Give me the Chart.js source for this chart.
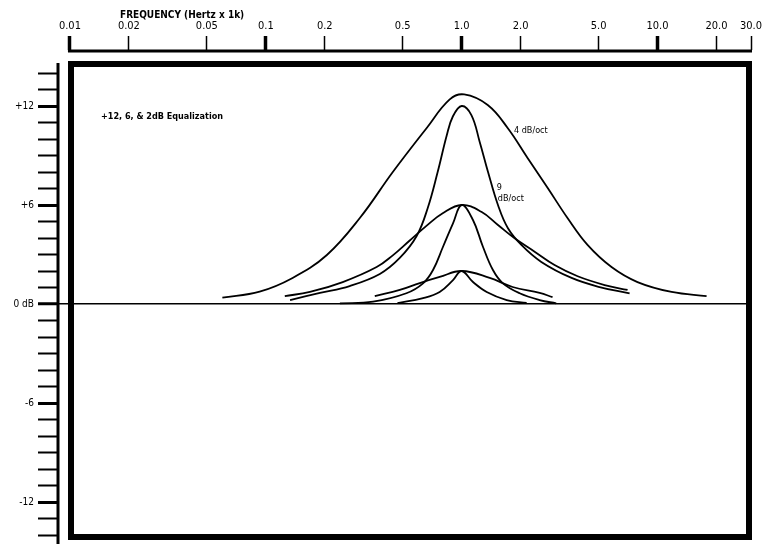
<!DOCTYPE html>
<html>
<head>
<meta charset="utf-8">
<script src="https://cdn.jsdelivr.net/npm/chart.js@4.4.1/dist/chart.umd.min.js"></script>
<style>
html,body{margin:0;padding:0;background:#fff}
#wrap{width:762px;height:544px}
</style>
</head>
<body>
<div id="wrap"><canvas id="eq" width="762" height="544"></canvas></div>
<script>
const freqTicks = [0.01,0.02,0.05,0.1,0.2,0.5,1,2,5,10,20,30]
const freqLabels = ['0.01','0.02','0.05','0.1','0.2','0.5','1.0','2.0','5.0','10.0','20.0','30.0']
const freqMajor = [0.01,0.1,1,10]
const dbTicks = [-14,-13,-12,-11,-10,-9,-8,-7,-6,-5,-4,-3,-2,-1,0,1,2,3,4,5,6,7,8,9,10,11,12,13,14]
const dbLabels = {'12':'+12','6':'+6','0':'0 dB','-6':'-6','-12':'-12'}

// +12 dB, 4 dB/oct
const f12wide = [0.06,0.093,0.137,0.205,0.302,0.445,0.663,0.869,1.03,1.358,1.717,2.17,2.75,3.47,4.39,5.82,7.9,11.8,17.8]
const db12wide = [0.38,0.75,1.58,2.97,5.21,8.0,10.67,12.4,12.7,12.06,10.67,8.85,7.03,5.21,3.58,2.24,1.33,0.73,0.48]
// +12 dB, 9 dB/oct
const f12narrow = [0.133,0.189,0.268,0.382,0.483,0.589,0.671,0.754,0.838,0.90,1.0,1.121,1.235,1.362,1.532,1.723,2.017,2.55,3.64,5.06,7.2]
const db12narrow = [0.24,0.67,1.09,1.82,2.79,4.12,5.82,8.0,10.2,11.35,12.0,11.45,9.84,8.02,6.0,4.59,3.58,2.55,1.58,1.03,0.64]
// +6 dB, 4 dB/oct
const f6wide = [0.125,0.168,0.247,0.368,0.445,0.543,0.663,0.80,1.0,1.26,1.532,1.864,2.357,2.98,3.91,5.37,7.03]
const db6wide = [0.48,0.73,1.33,2.24,2.95,3.85,4.75,5.5,6.0,5.59,4.79,3.98,3.17,2.36,1.68,1.15,0.85]
// +6 dB, 9 dB/oct
const f6narrow = [0.239,0.353,0.522,0.635,0.714,0.803,0.903,1.0,1.142,1.284,1.444,1.624,1.977,2.5,3.04]
const db6narrow = [0.04,0.14,0.65,1.25,2.06,3.47,4.89,6.0,5.09,3.47,2.06,1.25,0.65,0.24,0.04]
// +2 dB, 4 dB/oct
const f2wide = [0.36,0.483,0.611,0.772,1.0,1.39,1.82,2.5,2.91]
const db2wide = [0.48,0.85,1.27,1.64,2.0,1.58,1.03,0.67,0.42]
// +2 dB, 9 dB/oct
const f2narrow = [0.47,0.635,0.772,0.903,1.0,1.142,1.342,1.697,2.146]
const db2narrow = [0.06,0.36,0.73,1.45,2.0,1.33,0.73,0.24,0.06]

const family = '"Liberation Sans Narrow","DejaVu Sans Condensed","Liberation Sans",sans-serif'

function curve(f, db){
  return {data: f.map((v,i)=>({x:v, y:db[i]}))}
}

// frame, axis lines and the hand lettered notes
const decor = {
  id:'decor',
  afterDraw(chart){
    const {ctx, chartArea:a, scales:{x,y}} = chart
    ctx.save()
    ctx.strokeStyle = '#000'
    ctx.fillStyle = '#000'
    ctx.lineWidth = 3
    ctx.beginPath()
    ctx.moveTo(x.getPixelForValue(0.01)-2, a.top+1)
    ctx.lineTo(x.getPixelForValue(30)+1, a.top+1)
    ctx.stroke()
    ctx.beginPath()
    ctx.moveTo(a.left, y.getPixelForValue(14.6))
    ctx.lineTo(a.left, a.bottom)
    ctx.stroke()

    ctx.lineWidth = 6
    ctx.strokeRect(a.left+13, a.top+14, a.right-a.left-15, a.bottom-a.top-21)

    ctx.textBaseline = 'middle'
    ctx.font = 'bold 10px '+family
    ctx.fillText('FREQUENCY (Hertz x 1k)', a.left+62, 15)

    ctx.font = 'bold 9px '+family
    ctx.fillText('+12, 6, & 2dB Equalization', x.getPixelForValue(0.0144), y.getPixelForValue(11.33))
    ctx.font = '9px '+family
    ctx.fillText('4 dB/oct', x.getPixelForValue(1.85), y.getPixelForValue(10.5))
    ctx.fillText('9', x.getPixelForValue(1.509), y.getPixelForValue(7.03))
    ctx.fillText('dB/oct', x.getPixelForValue(1.53), y.getPixelForValue(6.36))
    ctx.restore()
  }
}

new Chart(document.getElementById('eq'),{
  type:'line',
  data:{
    datasets:[
      curve(f12wide, db12wide),
      curve(f12narrow, db12narrow),
      curve(f6wide, db6wide),
      curve(f6narrow, db6narrow),
      curve(f2wide, db2wide),
      curve(f2narrow, db2narrow)
    ]
  },
  options:{
    responsive:false,
    animation:false,
    layout:{padding:{left:0,right:11,top:0,bottom:0}},
    plugins:{legend:{display:false},tooltip:{enabled:false}},
    elements:{
      point:{radius:0},
      line:{borderColor:'#000',borderWidth:1.8,tension:0.4,fill:false}
    },
    scales:{
      x:{
        type:'logarithmic',
        position:'top',
        min:0.00869,
        max:30,
        afterBuildTicks:s=>{ s.ticks = freqTicks.map(v=>({value:v})) },
        afterFit:s=>{ s.height = 50; s.paddingLeft = 0; s.paddingRight = 0 },
        border:{display:false},
        grid:{
          drawOnChartArea:false,
          tickLength:14,
          tickColor:'#000',
          tickWidth:c=> c.tick && freqMajor.includes(c.tick.value) ? 3.5 : 1.5
        },
        ticks:{
          color:'#000',
          padding:3,
          autoSkip:false,
          maxRotation:0,
          font:{family:family,size:11},
          callback:(v,i)=>freqLabels[i]
        }
      },
      y:{
        type:'linear',
        min:-14.545,
        max:15.394,
        afterBuildTicks:s=>{ s.ticks = dbTicks.map(v=>({value:v})) },
        afterFit:s=>{ s.width = 58; s.paddingTop = 0; s.paddingBottom = 0 },
        border:{display:false},
        grid:{
          color:c=> c.tick && c.tick.value===0 ? '#000' : 'rgba(0,0,0,0)',
          lineWidth:c=> c.tick && c.tick.value===0 ? 1.5 : 1,
          tickLength:20,
          tickColor:'#000',
          tickWidth:c=> c.tick && c.tick.value%6===0 ? 3 : 2
        },
        ticks:{
          color:'#000',
          padding:4,
          autoSkip:false,
          font:{family:family,size:10},
          callback:v=> dbLabels[v] || ''
        }
      }
    }
  },
  plugins:[decor]
})
</script>
</body>
</html>
